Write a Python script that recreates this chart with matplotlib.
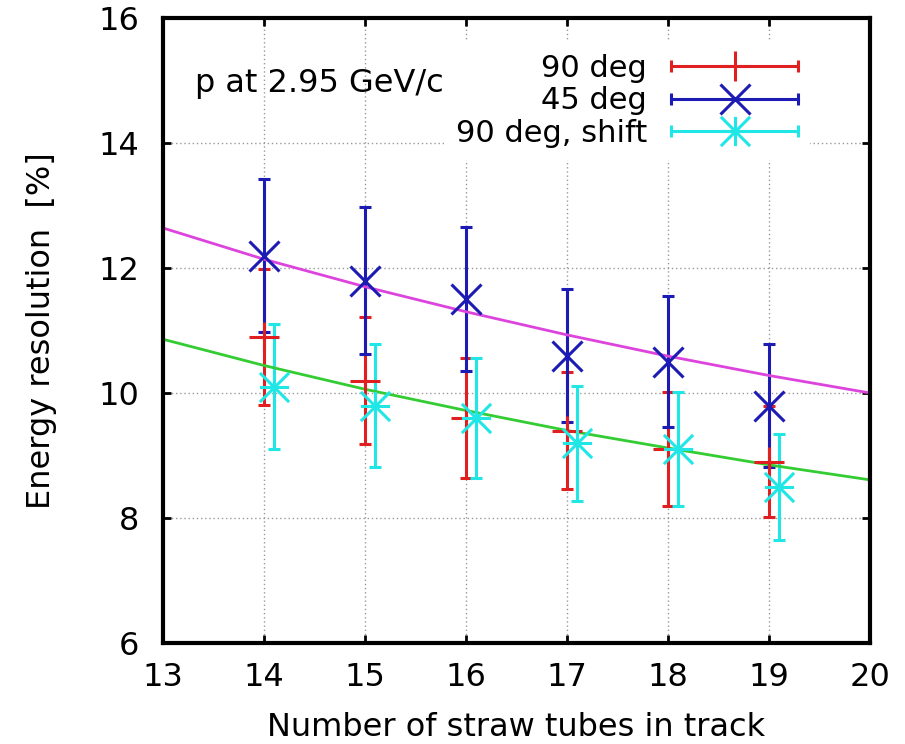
import matplotlib
matplotlib.use('Agg')
import matplotlib.pyplot as plt
from matplotlib.path import Path
from matplotlib.lines import Line2D
from matplotlib.legend_handler import HandlerBase

plt.rcParams['font.family'] = ['DejaVu Sans']

# number of straw tubes in track
tubes = [14, 15, 16, 17, 18, 19]
tubes_shift = [14.1, 15.1, 16.1, 17.1, 18.1, 19.1]

# energy resolution [%] and errors
res_90 = [10.9, 10.2, 9.6, 9.4, 9.1, 8.9]
err_90 = [1.09, 1.02, 0.96, 0.94, 0.91, 0.89]
res_45 = [12.2, 11.8, 11.5, 10.6, 10.5, 9.8]
err_45 = [1.22, 1.18, 1.15, 1.06, 1.05, 0.98]
res_90s = [10.1, 9.8, 9.6, 9.2, 9.1, 8.5]
err_90s = [1.00, 0.98, 0.96, 0.92, 0.91, 0.85]

fit_x = [13, 14, 15, 16, 17, 18, 19, 20]
fit_45 = [12.64, 12.14, 11.70, 11.30, 10.93, 10.59, 10.28, 10.00]
fit_90 = [10.86, 10.44, 10.06, 9.72, 9.40, 9.12, 8.85, 8.61]

labels = ['90 deg', '45 deg', '90 deg, shift']

c_red = '#e02020'
c_blue = '#1c1cb4'
c_cyan = '#20e6e6'
ms = 21

# gnuplot style asterisk (plus and cross together)
star = Path([(-1, 0), (1, 0), (0, -1), (0, 1), (-1, -1), (1, 1), (-1, 1), (1, -1)],
            [Path.MOVETO, Path.LINETO] * 4)

fig = plt.figure(figsize=(9.05, 7.44), dpi=100)
ax = fig.add_axes([163 / 905, 1 - 643 / 744, 707 / 905, 625 / 744])

common = dict(ls='none', elinewidth=2.2, capsize=4.5, capthick=2.2, markersize=ms, markeredgewidth=2.2)
ax.errorbar(tubes, res_90, yerr=err_90, color=c_red, marker='+', **common)
ax.errorbar(tubes, res_45, yerr=err_45, color=c_blue, marker='x', **common)
ax.errorbar(tubes_shift, res_90s, yerr=err_90s, color=c_cyan, marker=star, **common)

ax.plot(fit_x, fit_45, color='#dd44dd', lw=2)
ax.plot(fit_x, fit_90, color='#33cc33', lw=2)

ax.set_xlim(13, 20)
ax.set_ylim(6, 16)
ax.set_xticks(range(13, 21))
ax.set_yticks(range(6, 17, 2))
ax.tick_params(direction='in', top=True, right=True, length=6, width=2, labelsize=23)
ax.tick_params(axis='x', pad=14)
ax.tick_params(axis='y', pad=17)
for s in ax.spines.values():
    s.set_linewidth(3)

ax.grid(True, color='#999999', linestyle=(0, (1, 2)), linewidth=1)
ax.set_axisbelow(True)

ax.set_xlabel('Number of straw tubes in track', fontsize=23)
ax.xaxis.set_label_coords(0.5, -0.11)
ax.set_ylabel('Energy resolution  [%]', fontsize=23)
ax.yaxis.set_label_coords(-0.150, 0.5)

ax.text(0.045, 0.8816, 'p at 2.95 GeV/c', transform=ax.transAxes, fontsize=23, ha='left', va='baseline')


class HandlerXErr(HandlerBase):
    # horizontal bar with end caps and the point marker in the middle
    def create_artists(self, legend, orig, xdescent, ydescent, width, height, fontsize, trans):
        y = height / 2 - ydescent
        x0, x1 = -xdescent, width - xdescent
        c = orig.get_color()
        bar = Line2D([x0, x1], [y, y], color=c, lw=2.2)
        caps = Line2D([x0, x1], [y, y], ls='none', marker='|', ms=9, mew=2.2, color=c)
        mk = Line2D([(x0 + x1) / 2], [y], ls='none', marker=orig.get_marker(),
                    ms=orig.get_markersize(), mew=orig.get_markeredgewidth(), color=c)
        for a in (bar, caps, mk):
            a.set_transform(trans)
        return [bar, caps, mk]


proxies = [Line2D([], [], color=c_red, marker='+', ms=ms, mew=2.2),
           Line2D([], [], color=c_blue, marker='x', ms=ms, mew=2.2),
           Line2D([], [], color=c_cyan, marker=star, ms=ms, mew=2.2)]
leg = ax.legend(proxies, labels, handler_map={Line2D: HandlerXErr()}, loc='upper right',
                bbox_to_anchor=(0.915, 0.962), borderaxespad=0, borderpad=0.4,
                fontsize=22, markerfirst=False, handlelength=4.13, handletextpad=0.8,
                labelspacing=0.115, frameon=True, fancybox=False, framealpha=1)
leg.get_frame().set_edgecolor('none')

fig.savefig('out.png', dpi=100)
